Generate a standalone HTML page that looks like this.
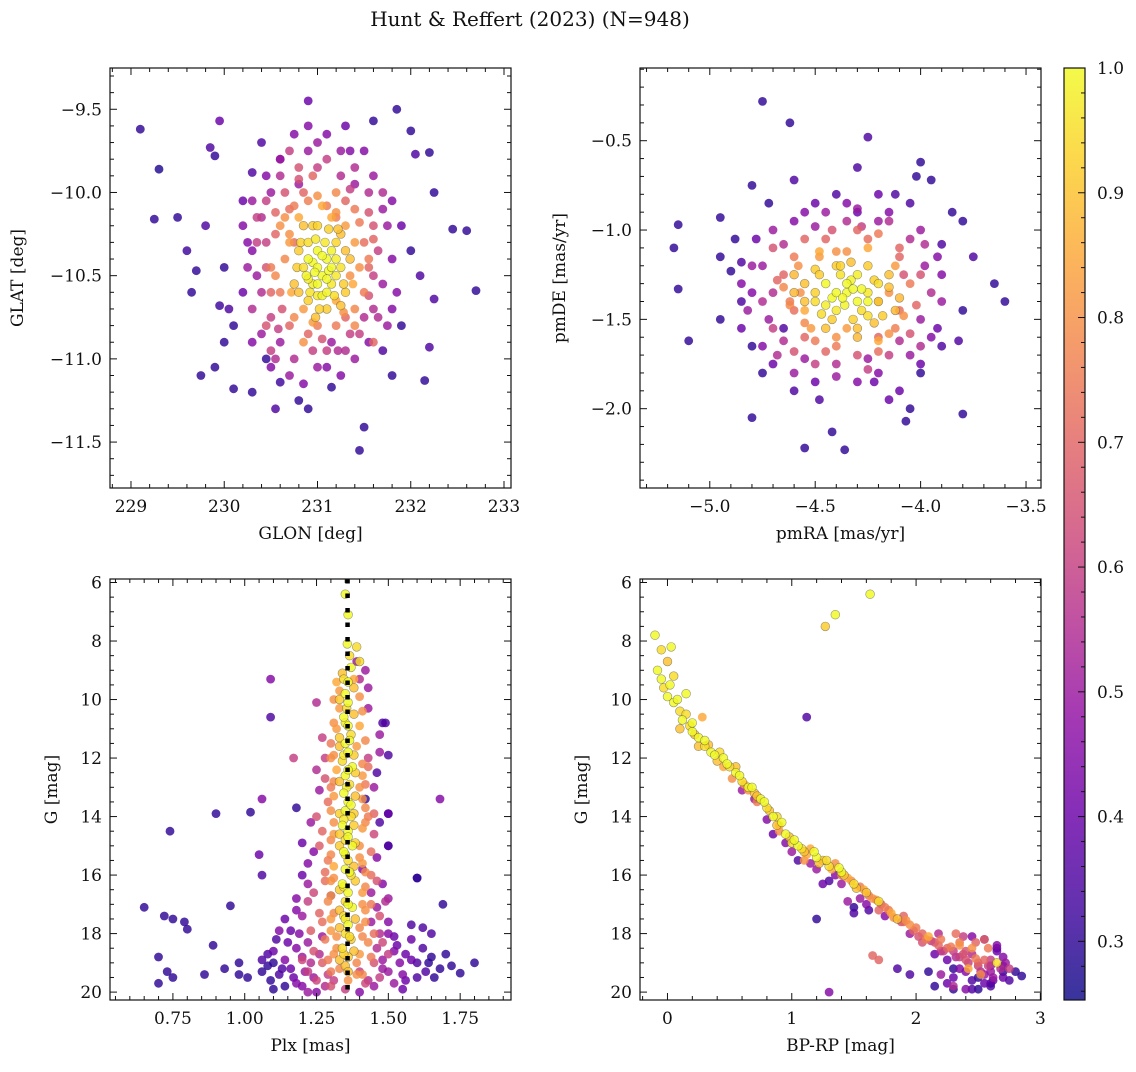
<!DOCTYPE html>
<html><head><meta charset="utf-8"><style>
html,body{margin:0;padding:0;background:#fff;}
svg text{font-family:"DejaVu Serif","Liberation Serif",serif;fill:#111;}
</style></head><body>
<svg id="chart" xmlns="http://www.w3.org/2000/svg" width="1136" height="1067" viewBox="0 0 1136 1067">
<defs><linearGradient id="cbgrad" x1="0" y1="1" x2="0" y2="0">
<stop offset="0" stop-color="#0d0887"/><stop offset="0.1" stop-color="#41049d"/><stop offset="0.2" stop-color="#6a00a8"/><stop offset="0.3" stop-color="#8f0da4"/><stop offset="0.4" stop-color="#b12a90"/><stop offset="0.5" stop-color="#cc4778"/><stop offset="0.6" stop-color="#e16462"/><stop offset="0.7" stop-color="#f2844b"/><stop offset="0.8" stop-color="#fca636"/><stop offset="0.9" stop-color="#fcce25"/><stop offset="1" stop-color="#f0f921"/>
</linearGradient></defs>
<text x="530" y="26" font-size="20" text-anchor="middle">Hunt &amp; Reffert (2023) (N=948)</text>
</svg>
<script>
// ---- data ----
const probMin = 0.253, probMax = 1.0;
// Panel 1: GLON, GLAT, probability
const p1Glon = [229.1,229.3,229.25,229.5,229.6,229.7,229.65,229.8,229.85,229.95,229.9,229.75,229.9,230.0,229.95,230.05,230.1,230.1,230.3,230.0,230.2,230.3,230.4,230.45,230.6,230.55,230.8,230.9,231.15,231.5,231.45,231.8,232.15,232.2,232.25,232.45,232.6,232.7,232.0,232.05,232.2,231.85,231.6,231.3,230.9,230.9,232.25,231.9,232.1,231.9,231.7,230.3,230.2,232.0,231.5,230.6,
230.5,230.6,230.7,230.8,230.95,231.1,231.25,231.4,231.55,231.7,230.4,230.35,230.45,230.4,230.5,230.6,230.75,230.95,231.15,231.3,231.45,231.6,231.7,231.65,231.6,230.55,230.6,230.7,231.0,231.3,231.5,231.5,231.4,231.2,230.9,230.7,230.65,231.45,230.8,231.3,230.85,231.2,230.3,231.8,231.8,230.2,231.0,231.35,230.5,231.1,
230.9,231.0,231.1,231.05,230.95,231.15,230.85,231.25,231.0,231.2,230.8,231.3,230.9,231.1,231.05,230.95,231.15,231.25,230.75,231.0,231.12,230.98,231.3,230.85,
230.55,230.7,231.35,231.55,230.45,231.6,230.65,231.4,230.85,231.2,230.75,231.05];
const p1Glat = [-9.62,-9.86,-10.16,-10.15,-10.35,-10.47,-10.6,-10.2,-9.73,-9.57,-9.78,-11.1,-11.05,-10.45,-10.68,-10.7,-10.8,-11.18,-11.2,-10.9,-10.05,-9.88,-9.7,-11.0,-11.14,-11.3,-11.25,-11.3,-11.17,-11.41,-11.55,-11.1,-11.13,-10.93,-10.64,-10.22,-10.23,-10.59,-9.63,-9.77,-9.76,-9.5,-9.57,-9.6,-9.45,-9.6,-10.0,-10.2,-10.5,-10.8,-10.95,-10.35,-10.6,-10.35,-9.75,-9.8,
-10.0,-9.9,-9.75,-9.85,-9.9,-9.8,-9.9,-9.95,-10.0,-10.1,-10.15,-10.3,-10.45,-10.6,-10.75,-10.9,-11.0,-10.95,-10.9,-10.95,-10.85,-10.7,-10.55,-10.35,-10.2,-10.25,-10.6,-10.8,-10.8,-10.75,-10.6,-10.3,-10.1,-10.0,-10.05,-10.1,-10.4,-10.45,-9.95,-10.2,-10.7,-10.65,-10.9,-10.4,-10.7,-10.2,-9.7,-9.75,-11.05,-11.05,
-10.3,-10.35,-10.4,-10.5,-10.55,-10.55,-10.45,-10.45,-10.2,-10.3,-10.35,-10.6,-10.65,-10.7,-10.62,-10.42,-10.35,-10.25,-10.55,-10.55,-10.47,-10.28,-10.35,-10.2,
-10.5,-10.25,-10.5,-10.45,-10.8,-10.9,-10.15,-10.8,-10.9,-10.15,-10.3,-10.08];
const p1Prob = [.3,.28,.3,.3,.32,.3,.3,.35,.35,.4,.3,.3,.3,.3,.32,.35,.3,.3,.3,.3,.4,.35,.35,.3,.32,.35,.3,.3,.3,.3,.3,.3,.3,.35,.35,.3,.3,.3,.3,.35,.3,.3,.3,.4,.4,.45,.3,.4,.35,.3,.35,.45,.4,.3,.45,.45,
.5,.55,.6,.65,.7,.6,.55,.5,.55,.5,.55,.6,.65,.55,.6,.5,.55,.6,.5,.55,.6,.55,.5,.6,.65,.7,.75,.7,.75,.7,.75,.72,.75,.78,.76,.72,.78,.8,.5,.82,.82,.85,.45,.45,.45,.45,.5,.45,.45,.45,
.95,1,1,1,.98,.97,.95,.96,.93,.94,.92,.92,.93,.92,.99,1,.99,.9,.9,1,1,.97,.9,.9,
.78,.8,.8,.7,.65,.7,.8,.78,.8,.75,.72,.85];
const p1GlonB = [230.45,230.55,230.65,230.75,230.85,231.0,231.1,231.2,231.3,231.45,231.55,231.6,231.55,231.6,231.55,231.4,231.35,231.2,231.05,230.9,230.75,230.62,230.5,230.5,230.45,230.6,230.7,230.72,230.8,231.38,231.4,231.15,231.28,230.95,230.35,230.3,230.4,230.55,230.7,230.85,231.0,231.25,231.4,231.55,231.75,231.85,231.75,231.8,231.6,231.4,231.25,231.1,230.9,230.75,230.6,230.45,230.3,230.25,230.25,230.5,231.1,231.65,231.7,230.35,231.0,230.8,231.35,231.5,230.58,231.22,
230.9,231.0,231.1,231.2,231.08,230.92,231.18,231.02,230.82,231.28,230.88,231.15,230.97,231.05,231.1,230.8,231.35,231.22,230.95,231.12,230.78,231.25,230.98,231.0,231.2,230.9];
const p1GlatB = [-10.05,-10.12,-10.0,-10.08,-10.0,-10.02,-10.08,-10.12,-10.05,-10.18,-10.12,-10.28,-10.4,-10.5,-10.62,-10.7,-10.85,-10.8,-10.88,-10.85,-10.75,-10.7,-10.6,-10.45,-10.3,-10.2,-10.3,-10.6,-10.15,-10.55,-10.3,-10.15,-10.72,-10.78,-10.5,-10.7,-10.85,-11.0,-11.1,-11.15,-11.05,-11.1,-11.0,-10.9,-10.8,-10.6,-10.2,-10.05,-9.9,-9.85,-9.75,-9.65,-9.75,-9.65,-9.8,-9.9,-10.05,-10.3,-10.45,-10.95,-10.95,-10.75,-10.0,-10.15,-9.85,-9.92,-9.98,-10.75,-10.82,-10.95,
-10.4,-10.45,-10.52,-10.4,-10.3,-10.6,-10.62,-10.7,-10.3,-10.55,-10.5,-10.45,-10.48,-10.38,-10.6,-10.6,-10.4,-10.22,-10.2,-10.22,-10.45,-10.68,-10.75,-10.62,-10.5,-10.52];
const p1ProbB = [.6,.7,.65,.75,.7,.8,.75,.8,.7,.75,.65,.7,.75,.6,.65,.78,.6,.75,.65,.7,.78,.65,.7,.75,.6,.8,.82,.85,.85,.85,.82,.85,.8,.82,.5,.55,.5,.55,.5,.45,.5,.45,.5,.45,.5,.45,.5,.45,.5,.55,.5,.45,.5,.45,.5,.45,.5,.45,.5,.6,.6,.55,.55,.6,.6,.65,.6,.55,.6,.55,
1,1,1,.98,.97,.96,.95,.93,.93,.92,.99,1,1,1,.99,.9,.9,.9,.92,.93,.92,.9,.9,.97,.97,.98];
// Panel 2: pmRA, pmDE, probability
const p2Pmra = [-4.75,-4.62,-4.3,-4.25,-5.15,-5.17,-5.15,-5.1,-4.95,-4.95,-4.88,-4.9,-4.95,-4.85,-4.8,-4.72,-4.85,-4.8,-4.8,-4.75,-4.6,-4.55,-4.42,-4.36,-4.48,-4.22,-4.15,-4.05,-4.07,-4.1,-3.8,-3.82,-3.8,-3.6,-3.65,-3.75,-3.8,-3.85,-3.9,-4.0,-4.02,-3.95,-4.05,-4.12,-4.2,-4.4,-4.6,-4.5,-4.3,-3.9,-4.0,-4.65,
-4.75,-4.7,-4.72,-4.65,-4.55,-4.4,-4.25,-4.1,-4.0,-3.95,-3.98,-4.05,-4.2,-4.35,-4.5,-4.65,-4.65,-4.6,-4.55,-4.4,-4.2,-4.1,-4.05,-4.1,-4.25,-4.45,-4.6,-4.8,-4.85,-3.9,-3.92,-4.3,-4.5,-4.35,-4.55,-4.15,-4.0,-4.7,-4.78,-4.57,-4.15,-4.35,-4.35,
-4.35,-4.45,-4.25,-4.4,-4.3,-4.5,-4.2,-4.38,-4.32,-4.5,-4.18,-4.45,-4.25,-4.55,-4.15,-4.28,-4.42,-4.36,-4.33,-4.6,-4.1,-4.47,-4.22,-4.3,
-4.62,-4.5,-4.2,-4.08,-4.4,-4.28,-4.55,-4.12,-4.48,-4.2];
const p2Pmde = [-0.28,-0.4,-0.65,-0.48,-0.97,-1.1,-1.33,-1.62,-0.93,-1.15,-1.05,-1.23,-1.5,-1.18,-0.75,-0.85,-1.4,-1.65,-2.05,-1.8,-1.9,-2.22,-2.13,-2.23,-1.95,-1.85,-1.95,-2.0,-2.07,-1.9,-2.03,-1.62,-1.45,-1.4,-1.3,-1.15,-0.95,-0.9,-1.08,-0.62,-0.7,-0.72,-0.85,-0.8,-0.8,-0.8,-0.72,-0.85,-0.9,-1.65,-1.8,-1.55,
-1.2,-1.35,-1.5,-1.62,-1.72,-1.75,-1.72,-1.62,-1.5,-1.35,-1.2,-1.05,-0.95,-0.95,-0.98,-1.08,-1.25,-1.45,-1.6,-1.65,-1.6,-1.45,-1.3,-1.15,-1.05,-1.05,-1.15,-1.35,-1.55,-1.25,-1.55,-1.85,-1.85,-0.85,-0.9,-0.9,-1.75,-1.75,-1.05,-1.35,-1.35,-1.55,-1.12,
-1.35,-1.3,-1.4,-1.45,-1.25,-1.4,-1.3,-1.2,-1.5,-1.22,-1.48,-1.55,-1.2,-1.3,-1.25,-1.33,-1.38,-1.42,-1.28,-1.35,-1.38,-1.47,-1.52,-1.6,
-1.42,-1.62,-1.68,-1.25,-1.12,-0.98,-1.52,-1.55,-1.15,-1.4];
const p2Prob = [.3,.3,.35,.35,.3,.3,.3,.3,.3,.3,.3,.3,.3,.35,.3,.3,.35,.3,.3,.3,.35,.3,.3,.3,.35,.4,.4,.3,.3,.4,.3,.35,.3,.3,.3,.35,.3,.3,.35,.3,.3,.3,.35,.35,.4,.35,.35,.4,.4,.35,.3,.35,
.5,.55,.5,.55,.5,.55,.5,.55,.5,.55,.5,.55,.5,.55,.5,.55,.7,.72,.7,.75,.7,.72,.75,.7,.72,.7,.75,.45,.4,.45,.4,.45,.4,.45,.45,.45,.4,.4,.4,.8,.8,.82,.8,
1,1,1,.97,.98,.95,.95,.93,.93,.92,.92,.9,.92,.9,.9,1,1,.99,.99,.88,.88,.95,.9,.88,
.78,.75,.72,.65,.8,.6,.78,.76,.82,.7];
const p2PmraB = [-4.7,-4.68,-4.62,-4.7,-4.6,-4.45,-4.3,-4.15,-4.05,-4.02,-4.0,-4.1,-4.2,-4.3,-4.42,-4.55,-4.58,-4.52,-4.15,-4.12,-4.25,-4.48,-4.55,-4.2,-4.4,-4.08,-4.65,-4.8,-4.82,-4.75,-4.6,-4.4,-4.2,-4.05,-3.95,-3.9,-3.92,-4.0,-4.15,-4.3,-4.45,-4.6,-4.7,-4.75,-4.68,-4.0,-3.98,-4.5,-4.25,-4.85,
-4.35,-4.4,-4.3,-4.45,-4.25,-4.38,-4.28,-4.5,-4.2,-4.42,-4.33,-4.48,-4.22,-4.3,-4.55,-4.15,-4.4,-4.25,-4.37,-4.32,-4.6,-4.12];
const p2PmdeB = [-1.1,-1.28,-1.4,-1.55,-1.68,-1.68,-1.7,-1.7,-1.58,-1.42,-1.25,-1.1,-1.02,-1.0,-1.0,-1.05,-1.2,-1.55,-1.58,-1.2,-1.1,-1.12,-1.45,-1.62,-1.6,-1.48,-1.32,-1.2,-1.45,-1.65,-1.8,-1.82,-1.8,-1.7,-1.6,-1.4,-1.15,-1.0,-0.95,-0.88,-0.9,-0.95,-1.0,-1.4,-1.7,-1.65,-1.08,-1.75,-1.78,-1.3,
-1.3,-1.35,-1.4,-1.42,-1.35,-1.25,-1.45,-1.35,-1.4,-1.5,-1.18,-1.25,-1.28,-1.55,-1.4,-1.32,-1.2,-1.48,-1.38,-1.33,-1.25,-1.45];
const p2ProbB = [.65,.7,.75,.6,.65,.7,.65,.6,.65,.7,.65,.7,.75,.7,.65,.7,.8,.82,.8,.82,.85,.85,.85,.85,.8,.8,.78,.5,.5,.45,.5,.5,.45,.5,.45,.5,.45,.5,.55,.5,.5,.45,.5,.55,.55,.55,.55,.6,.6,.45,
1,1,1,.98,.97,.96,.95,.93,.93,.92,.9,.92,.93,.9,.9,.9,.92,.95,1,1,.88,.88];
// Panel 3: parallax, G magnitude, probability
const p3Plx = [1.09,1.09,1.06,1.05,1.06,0.74,0.65,0.72,0.75,0.79,0.8,0.7,0.73,0.75,0.7,0.89,0.86,0.93,0.95,0.98,0.98,1.01,0.9,1.02,1.8,1.75,1.69,1.68,1.65,1.6,1.5,1.5,1.5,1.5,1.48,1.42,
1.35,1.36,1.357,1.365,1.37,1.34,1.36,1.35,1.355,1.345,1.36,1.37,1.35,1.36,1.34,1.375,1.35,1.365,1.345,1.36,1.35,1.37,1.34,1.36,1.35,1.375,1.345,1.36,1.35,1.37,1.34,1.36,1.35,1.375,1.345,1.36,1.35,1.37,1.34,1.36,1.35,1.38,1.33,1.385,1.33,1.385,1.33,1.38,1.33,1.385,1.38,1.39,1.4,1.33,1.385,1.33,
1.32,1.33,1.31,1.4,1.39,1.31,1.41,1.32,1.4,1.31,1.42,1.31,1.41,1.3,1.4,1.31,1.42,1.3,1.41,1.29,1.42,1.3,1.4,1.32,1.43,1.31,1.39,1.3,1.41,1.36,1.28,1.44,1.27,1.45,1.28,1.44,1.29,1.43,1.42,1.3,1.38,1.33,
1.27,1.28,1.43,1.25,1.45,1.26,1.46,1.24,1.26,1.47,1.23,1.48,1.24,1.27,1.45,1.22,1.5,1.3,1.42,1.2,1.35,1.25,1.47,1.28,1.22,
1.12,1.15,1.08,1.1,1.13,1.17,1.2,1.22,1.18,1.06,1.09,1.14,1.5,1.53,1.56,1.6,1.63,1.55,1.52,1.58,1.48,1.45,1.65,1.68,1.62,1.44,1.2,1.18,1.22,1.23,1.26,1.45,1.47,1.43,1.39,1.25,1.17,1.41,1.44,1.27,1.25,1.4,1.55,1.1,1.3,1.2,1.47,1.46,1.18,1.49,1.5,1.5,1.49,1.6,1.42];
const p3Gmag = [9.3,10.6,13.4,15.3,16.0,14.5,17.1,17.4,17.5,17.6,17.85,18.8,19.3,19.5,19.7,18.4,19.4,19.2,17.05,19.0,19.4,19.5,13.9,13.85,19.0,19.35,17.0,13.4,18.0,16.1,11.9,13.9,15.0,16.8,10.8,9.0,
6.4,7.1,8.1,8.5,8.9,9.1,9.4,9.8,10.3,10.6,10.9,11.2,11.5,11.8,12.1,12.3,12.6,12.9,13.2,13.5,13.8,14.0,14.3,14.5,14.8,15.0,15.2,15.5,15.8,16.0,16.3,16.6,16.9,17.1,17.4,17.7,18.0,18.2,18.5,18.8,19.1,18.6,17.2,14.9,13.9,12.5,11.3,10.5,16.5,16.2,9.6,8.2,8.7,15.0,13.3,12.8,
9.4,10.3,10.8,10.9,11.6,11.9,12.2,12.4,13.0,13.3,13.7,14.2,14.4,14.8,15.4,15.7,15.9,16.2,16.6,16.9,17.2,17.5,17.8,18.1,18.3,18.7,19.0,19.3,19.4,19.6,18.2,17.0,17.6,18.0,16.2,15.2,15.5,14.0,12.9,13.0,9.3,9.7,
11.3,12.7,12.0,14.0,14.6,15.0,16.2,16.6,17.3,17.4,17.9,18.3,18.6,19.0,19.0,19.3,18.7,19.8,19.7,18.9,19.9,19.6,19.5,12.0,16.9,
17.9,18.3,18.7,19.0,19.2,19.5,19.8,20.0,18.5,19.3,19.6,19.8,18.0,18.4,18.7,19.0,19.3,19.4,19.7,18.2,19.2,19.8,18.8,19.2,17.8,17.6,17.4,16.8,15.6,14.2,13.1,13.0,11.2,9.6,8.7,10.1,12.0,15.8,16.6,18.1,20.0,20.0,19.9,19.9,16.7,14.9,14.2,12.5,13.7,10.8,13.9,15.0,16.9,16.1,13.4];
const p3Prob = [.45,.35,.45,.4,.35,.3,.3,.3,.3,.3,.3,.3,.3,.3,.3,.3,.3,.3,.3,.3,.3,.3,.3,.3,.3,.3,.3,.45,.35,.3,.35,.4,.35,.5,.35,.5,
1,1,1,.95,1,.9,1,1,.95,1,1,.95,1,1,.95,1,1,.95,1,1,1,.95,1,1,.95,1,1,.95,1,.95,1,1,.95,1,.95,1,.95,.92,.95,.92,.9,.9,.9,.93,.93,.92,.92,.9,.92,.92,.9,.95,.95,.92,.9,.9,
.85,.82,.8,.85,.82,.8,.78,.85,.8,.82,.78,.8,.82,.78,.8,.85,.78,.8,.82,.78,.8,.82,.78,.8,.78,.8,.78,.75,.78,.8,.75,.75,.72,.72,.72,.72,.75,.75,.75,.75,.85,.82,
.6,.65,.6,.65,.62,.68,.65,.62,.7,.65,.68,.62,.65,.68,.65,.6,.6,.65,.62,.62,.6,.62,.6,.6,.6,
.45,.4,.35,.3,.35,.4,.45,.5,.45,.3,.3,.3,.45,.4,.4,.35,.35,.45,.5,.4,.5,.5,.3,.3,.35,.5,.5,.45,.45,.5,.5,.5,.5,.5,.5,.55,.6,.45,.5,.5,.45,.45,.4,.3,.4,.4,.35,.35,.3,.35,.3,.35,.55,.3,.3];
const p3PlxB = [1.345,1.36,1.35,1.365,1.345,1.36,1.355,1.37,1.345,1.36,1.35,1.365,1.345,1.36,1.35,1.365,1.345,1.36,1.38,1.33,1.38,1.33,1.38,1.33,1.385,1.33,1.38,1.33,
1.31,1.41,1.32,1.42,1.3,1.41,1.31,1.41,1.3,1.42,1.31,1.4,1.3,1.41,1.31,1.42,1.3,1.41,1.31,1.42,1.3,1.41,1.32,1.4,1.33,1.39,1.29,1.44,1.28,1.44,1.27,1.45,1.29,1.43,1.3,1.4,
1.06,1.08,1.1,1.12,1.14,1.16,1.18,1.2,1.21,1.23,1.24,1.26,1.28,1.29,1.22,1.19,1.16,1.11,1.46,1.48,1.5,1.52,1.54,1.56,1.58,1.6,1.62,1.64,1.66,1.7,1.72,1.47,1.5,1.43,1.4,1.31,1.52,1.58,1.14,1.18,1.22,1.46,1.48,1.25,1.47,1.4,1.43,1.24,1.2,1.46];
const p3GmagB = [9.3,10.1,10.8,11.4,11.9,12.4,13.0,13.6,14.1,14.7,15.3,15.9,16.4,17.0,17.5,18.1,18.7,19.3,11.9,10.0,14.3,14.6,15.7,17.8,17.5,18.9,13.9,11.6,
10.0,10.4,11.0,11.4,12.0,12.6,12.8,13.4,13.8,14.2,14.6,15.0,15.3,15.6,16.1,16.4,16.7,17.0,17.3,17.6,17.9,18.1,18.5,18.7,19.2,19.4,18.9,18.8,15.9,16.0,14.5,13.9,13.5,12.3,11.5,9.9,
18.9,19.1,18.6,19.4,18.9,19.2,19.7,18.8,19.3,19.0,19.5,18.7,19.8,19.4,18.3,18.0,17.9,18.2,18.5,18.9,19.3,18.6,19.0,19.6,18.9,19.5,18.5,19.0,19.5,18.7,19.1,18.0,17.6,19.6,19.3,19.6,18.1,17.7,17.5,17.2,16.3,15.4,16.3,12.4,11.8,9.3,10.3,15.2,16.0,17.1];
const p3ProbB = [.95,1,.98,1,.97,1,.98,1,.97,1,.98,1,.97,1,.98,.95,.93,.9,.92,.92,.92,.92,.9,.9,.9,.9,.92,.9,
.8,.8,.82,.78,.8,.82,.78,.8,.8,.78,.82,.8,.78,.82,.8,.78,.82,.8,.78,.8,.82,.78,.8,.82,.78,.8,.75,.75,.72,.72,.7,.7,.72,.72,.75,.8,
.35,.3,.4,.35,.45,.4,.45,.5,.5,.55,.5,.55,.55,.6,.5,.45,.4,.35,.55,.5,.5,.45,.45,.4,.4,.35,.35,.3,.3,.3,.3,.55,.45,.55,.6,.6,.4,.35,.4,.45,.5,.45,.45,.55,.5,.55,.5,.45,.4,.5];
// Panel 4: BP-RP colour, G magnitude, probability
const p4Bprp = [-0.1,-0.05,0.03,0.0,-0.05,-0.03,0.0,0.02,0.05,0.1,0.12,0.15,0.18,0.2,0.1,0.25,0.28,0.3,0.35,0.4,0.45,0.5,0.52,0.55,0.6,0.65,0.7,0.72,0.75,0.8,0.85,0.88,0.9,0.95,1.0,1.05,1.1,1.15,1.2,1.25,1.3,1.35,1.4,1.45,1.5,1.55,1.6,1.65,1.7,1.75,1.8,1.85,1.9,1.95,2.0,2.05,2.1,2.15,2.2,2.25,2.3,2.35,2.4,2.45,2.5,2.55,2.6,2.65,2.7,2.75,
0.6,0.8,1.0,1.2,1.4,1.6,1.3,1.5,1.2,1.62,1.12,1.3,1.65,1.7,1.85,1.95,2.1,1.63,1.35,1.27,
2.2,2.25,2.3,2.35,2.4,2.45,2.5,2.55,2.6,2.65,2.7,2.3,2.4,2.5,2.6,2.35,2.45,2.55,2.65,2.2,2.3,2.4,2.5,2.6,2.7,2.8,2.85,2.15,2.25,2.38,2.48,2.58,2.42,2.52,2.32,2.62,2.18,2.72,
0.25,0.45,0.65,0.9,1.1,1.4,1.7,1.9,2.05];
const p4Gmag = [7.8,8.3,8.2,8.7,9.3,9.6,9.9,9.5,10.1,10.4,10.7,9.8,10.9,11.1,11.0,11.3,10.6,11.6,11.8,12.1,12.0,12.3,12.7,12.5,12.8,13.0,13.2,13.5,13.4,13.7,14.0,14.3,14.5,14.6,14.9,15.0,15.2,15.1,15.4,15.5,15.7,15.6,15.9,16.1,16.3,16.4,16.6,16.8,16.9,17.1,17.3,17.5,17.4,17.7,17.8,18.0,18.1,18.3,18.2,18.5,18.6,18.4,18.9,18.7,19.1,18.9,19.3,19.0,19.5,19.2,
13.1,14.1,15.2,15.8,16.3,17.0,16.2,17.1,17.5,17.2,10.6,20.0,18.75,18.9,19.2,19.4,19.3,6.4,7.1,7.5,
18.6,18.9,19.2,18.8,19.3,19.6,19.0,19.4,19.7,18.6,19.1,19.8,19.9,19.5,18.9,18.3,18.5,18.2,18.4,19.4,19.5,18.6,19.9,19.1,18.8,19.3,19.45,19.8,19.7,18.1,18.3,18.5,19.2,19.4,18.0,19.6,18.0,19.0,
11.6,12.3,13.1,14.3,15.5,16.0,17.2,17.6,18.3];
const p4Prob = [1,.95,1,.9,1,.95,1,1,1,.95,1,1,.95,1,.9,1,.85,.95,1,.9,1,.95,.8,1,.95,1,.9,.75,1,.95,1,.9,.8,1,.95,1,.9,.85,1,.9,.95,.8,1,.85,.95,.75,.9,.8,.95,.75,.85,.9,.7,.8,.75,.7,.85,.65,.75,.7,.6,.8,.65,.55,.6,.7,.5,.95,.4,.6,
.5,.45,.5,.5,.5,.45,.35,.3,.3,.35,.35,.45,.7,.7,.35,.35,.3,1,1,.92,
.55,.4,.3,.6,.45,.35,.7,.5,.3,.4,.35,.55,.45,.3,.6,.75,.8,.7,.45,.5,.4,.65,.3,.5,.45,.3,.3,.3,.4,.6,.7,.75,.85,.8,.72,.4,.55,.5,
.9,.85,.8,.85,.8,.75,.7,.7,.65];
const p4BprpB = [-0.08,0.05,0.08,0.15,0.2,0.22,0.3,0.33,0.38,0.42,0.48,0.55,0.58,0.62,0.68,0.72,0.78,0.82,0.88,0.92,0.98,1.02,1.08,1.12,1.18,1.22,1.28,1.32,1.38,1.42,1.48,1.52,1.58,1.62,1.68,1.72,1.78,1.82,1.88,1.92,1.98,2.02,2.08,2.12,2.18,2.22,2.28,2.32,2.38,2.42,2.48,2.52,2.58,2.62,2.68,
0.7,0.95,1.15,1.35,1.55,1.75,1.95,2.15,2.35,2.55,2.45,2.3,2.6,2.7,2.75,1.5,1.45,1.25,1.05,0.85,2.55,2.65,2.45];
const p4GmagB = [9.0,9.2,10.0,10.5,10.8,11.2,11.4,11.55,11.9,11.8,12.2,12.3,12.6,12.9,13.0,13.3,13.5,13.8,14.0,14.2,14.7,14.8,15.1,15.3,15.2,15.6,15.5,15.8,15.75,16.0,16.2,16.45,16.5,16.7,16.85,17.0,17.2,17.45,17.6,17.55,17.9,18.1,18.2,18.25,18.4,18.6,18.45,18.8,18.7,19.0,18.85,19.3,19.1,19.5,19.2,
13.4,14.9,15.6,16.0,16.8,17.4,18.0,18.7,19.2,19.7,19.9,19.9,19.8,19.3,19.6,17.3,16.9,16.3,15.5,14.6,18.2,18.5,18.1];
const p4ProbB = [1,.95,1,.95,1,.9,1,.9,1,.95,1,.9,1,.85,1,.9,1,.9,.95,1,.9,1,.95,.85,1,.9,.95,.85,1,.9,.8,.9,.85,.75,.8,.7,.75,.8,.65,.8,.7,.65,.75,.6,.7,.6,.75,.55,.65,.6,.75,.55,.6,.5,.55,
.5,.45,.5,.45,.5,.45,.5,.4,.45,.4,.35,.3,.35,.3,.35,.35,.5,.4,.35,.4,.4,.35,.45];
const cbTicks = [0.3,0.4,0.5,0.6,0.7,0.8,0.9,1.0];
const plxRef = 1.358;

// ---- helpers ----
const NS = 'http://www.w3.org/2000/svg';
const svg = document.getElementById('chart');
function mk(tag, attrs, parent){ const e=document.createElementNS(NS,tag); for(const k in attrs) e.setAttribute(k,attrs[k]); (parent||svg).appendChild(e); return e; }
const stops=[[13,8,135],[65,4,157],[106,0,168],[143,13,164],[177,42,144],[204,71,120],[225,100,98],[242,132,75],[252,166,54],[252,206,37],[240,249,33]];
function plasma(t){ t=Math.max(0,Math.min(1,t)); const f=t*10, i=Math.min(9,Math.floor(f)), u=f-i; const a=stops[i], b=stops[i+1]; return 'rgb('+a.map((v,k)=>Math.round(v+(b[k]-v)*u)).join(',')+')'; }
function colorOf(p){ return plasma((p-probMin)/(probMax-probMin)); }
function fmt(v,d){ const s=Math.abs(v).toFixed(d); return (v<0?'\u2212':'')+s; }

function panel(cfg){
  const g = mk('g',{});
  
  
  const sx = v => cfg.left + (v-cfg.x0)/(cfg.x1-cfg.x0)*cfg.w;
  const sy = v => cfg.top + (cfg.inv ? (v-cfg.y0)/(cfg.y1-cfg.y0) : (cfg.y1-v)/(cfg.y1-cfg.y0))*cfg.h;
  const n = Math.min(cfg.xs.length, cfg.ys.length, cfg.ps.length);
  const idx = [...Array(n).keys()].sort((a,b)=>cfg.ps[a]-cfg.ps[b]);
  const pg = mk('g',{},g);
  
  
  idx.forEach(i=>{
    const c = mk('circle',{cx:sx(cfg.xs[i]).toFixed(1),cy:sy(cfg.ys[i]).toFixed(1),r:4.4,fill:colorOf(cfg.ps[i]),'fill-opacity':0.82},pg);
    if(cfg.ps[i]>0.85){ c.setAttribute('stroke','rgba(70,70,70,0.55)'); c.setAttribute('stroke-width','0.6'); }
    
    
  });
  if(cfg.extra) cfg.extra(g,sx,sy);
  const fr = mk('rect',{x:cfg.left,y:cfg.top,width:cfg.w,height:cfg.h,fill:'none',stroke:'#111','stroke-width':1.2},g);
  
  
  const B=cfg.top+cfg.h, R=cfg.left+cfg.w;
  const eps=1e-6;
  for(let v=Math.ceil(cfg.x0/cfg.xmin-eps)*cfg.xmin; v<=cfg.x1+eps; v+=cfg.xmin){
    const major = Math.abs(v/cfg.xmaj - Math.round(v/cfg.xmaj))<1e-4;
    const X=sx(v), L=major?7:4;
    mk('line',{x1:X,y1:B,x2:X,y2:B-L,stroke:'#111','stroke-width':1},g);
    mk('line',{x1:X,y1:cfg.top,x2:X,y2:cfg.top+L,stroke:'#111','stroke-width':1},g);
  }
  cfg.xlabels.forEach(v=>{ const t=mk('text',{x:sx(v),y:B+24,'font-size':17,'text-anchor':'middle'},g); t.textContent=fmt(v,cfg.xd);
      });
  for(let v=Math.ceil(Math.min(cfg.y0,cfg.y1)/cfg.ymin-eps)*cfg.ymin; v<=Math.max(cfg.y0,cfg.y1)+eps; v+=cfg.ymin){
    const major = Math.abs(v/cfg.ymaj - Math.round(v/cfg.ymaj))<1e-4;
    const Y=sy(v), L=major?7:4;
    mk('line',{x1:cfg.left,y1:Y,x2:cfg.left+L,y2:Y,stroke:'#111','stroke-width':1},g);
    mk('line',{x1:R,y1:Y,x2:R-L,y2:Y,stroke:'#111','stroke-width':1},g);
  }
  cfg.ylabels.forEach(v=>{ const t=mk('text',{x:cfg.left-8,y:sy(v)+6,'font-size':17,'text-anchor':'end'},g); t.textContent=fmt(v,cfg.yd);
      });
  const xt=mk('text',{x:cfg.left+cfg.w/2,y:B+51,'font-size':17,'text-anchor':'middle'},g); xt.textContent=cfg.xtitle;
   
  const yt=mk('text',{x:0,y:0,'font-size':17,'text-anchor':'middle',transform:'translate('+cfg.ytx+','+(cfg.top+cfg.h/2)+') rotate(-90)'},g); yt.textContent=cfg.ytitle;
   
}

panel({name:'glon-glat-panel',left:110,top:68,w:401,h:420,x0:228.775,x1:233.075,y0:-11.776,y1:-9.252,
  xs:p1Glon.concat(p1GlonB),ys:p1Glat.concat(p1GlatB),ps:p1Prob.concat(p1ProbB),xmaj:1,xmin:0.2,ymaj:0.5,ymin:0.1,xlabels:[229,230,231,232,233],xd:0,
  ylabels:[-9.5,-10,-10.5,-11,-11.5],yd:1,xtitle:'GLON [deg]',ytitle:'GLAT [deg]',ytx:23});
panel({name:'proper-motion-panel',left:640,top:68,w:401,h:420,x0:-5.331,x1:-3.429,y0:-2.444,y1:-0.093,
  xs:p2Pmra.concat(p2PmraB),ys:p2Pmde.concat(p2PmdeB),ps:p2Prob.concat(p2ProbB),xmaj:0.5,xmin:0.1,ymaj:0.5,ymin:0.1,xlabels:[-5,-4.5,-4,-3.5],xd:1,
  ylabels:[-0.5,-1,-1.5,-2],yd:1,xtitle:'pmRA [mas/yr]',ytitle:'pmDE [mas/yr]',ytx:565});
panel({name:'parallax-magnitude-panel',left:110,top:579,w:401,h:421,x0:0.531,x1:1.927,y0:5.88,y1:20.27,inv:true,
  xs:p3Plx.concat(p3PlxB),ys:p3Gmag.concat(p3GmagB),ps:p3Prob.concat(p3ProbB),xmaj:0.25,xmin:0.05,ymaj:2,ymin:0.5,xlabels:[0.75,1,1.25,1.5,1.75],xd:2,
  ylabels:[6,8,10,12,14,16,18,20],yd:0,xtitle:'Plx [mas]',ytitle:'G [mag]',ytx:57,
  extra:(g,sx,sy)=>{ const l=mk('line',{x1:sx(plxRef),y1:579,x2:sx(plxRef),y2:1000,stroke:'#000','stroke-width':4.5,'stroke-dasharray':'4.5 10'},g);
      }});
panel({name:'cmd-panel',left:640,top:579,w:401,h:421,x0:-0.221,x1:3.005,y0:5.88,y1:20.27,inv:true,
  xs:p4Bprp.concat(p4BprpB),ys:p4Gmag.concat(p4GmagB),ps:p4Prob.concat(p4ProbB),xmaj:1,xmin:0.2,ymaj:2,ymin:0.5,xlabels:[0,1,2,3],xd:0,
  ylabels:[6,8,10,12,14,16,18,20],yd:0,xtitle:'BP-RP [mag]',ytitle:'G [mag]',ytx:587});

// colorbar
const cb = mk('g',{});


const cbL=1064, cbT=68, cbW=21, cbH=932;
mk('rect',{x:cbL,y:cbT,width:cbW,height:cbH,fill:'url(#cbgrad)','fill-opacity':0.82},cb);
mk('rect',{x:cbL,y:cbT,width:cbW,height:cbH,fill:'none',stroke:'#111','stroke-width':1.2},cb);
const cy = v => cbT + (probMax-v)/(probMax-probMin)*cbH;
for(let v=0.26; v<=1.0001; v+=0.02){ const Y=cy(v); const major=Math.abs(v*10-Math.round(v*10))<1e-3;
  mk('line',{x1:cbL+cbW,y1:Y,x2:cbL+cbW-(major?7:4),y2:Y,stroke:'#111','stroke-width':1},cb); }
cbTicks.forEach(v=>{ const t=mk('text',{x:cbL+cbW+12,y:cy(v)+6,'font-size':17},cb); t.textContent=v.toFixed(1);
    });
</script>
</body></html>
